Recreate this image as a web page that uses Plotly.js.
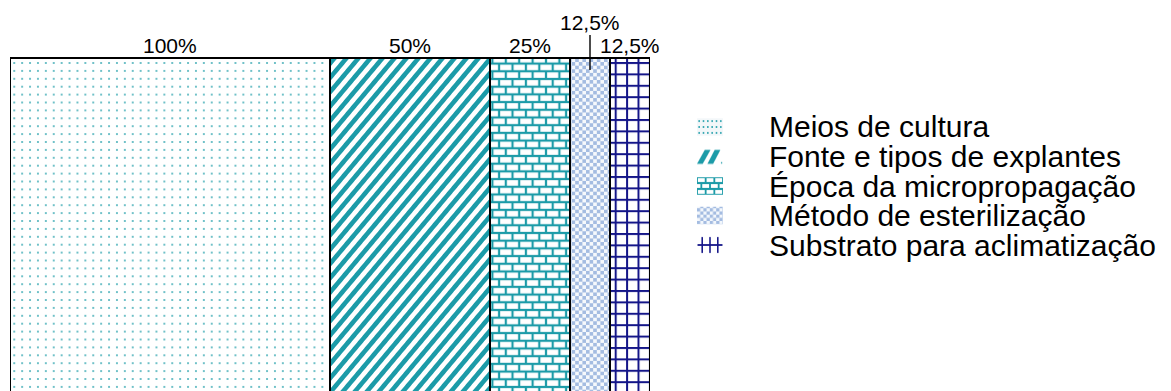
<!DOCTYPE html>
<html>
<head>
<meta charset="utf-8">
<script src="https://cdn.plot.ly/plotly-3.0.1.min.js"></script>
<style>
  html, body { margin: 0; padding: 0; background: #fff; }
  #chart { width: 1171px; height: 391px; }
</style>
</head>
<body>
<div id="chart"></div>
<svg id="fills" width="0" height="0" style="position:absolute;left:0;top:0"><defs></defs></svg>
<script>
// Factors studied and the share of works covering each one
const categories = [
  'Meios de cultura',
  'Fonte e tipos de explantes',
  'Época da micropropagação',
  'Método de esterilização',
  'Substrato para aclimatização'
];
const shares = [100, 50, 25, 12.5, 12.5];
const shareLabels = shares.map(v => String(v).replace('.', ',') + '%');

// ---- page geometry (pixels) ----
const W = 1171, H = 391;
const px = v => v / W;
const py = v => 1 - v / H;
const FONT = '"Liberation Sans", Arial, Helvetica, sans-serif';

const TEAL = '#1c9ba8';
const TEAL_DOT = '#24a0ac';
const NAVY = '#141588';
const CHECK = '#a4bce1';

// Bars are laid side by side: each one as wide as its share
const total = shares.reduce((a, b) => a + b, 0);
const lefts = shares.map((v, i) => shares.slice(0, i).reduce((a, b) => a + b, 0));
const centers = shares.map((v, i) => lefts[i] + v / 2);

const plotLeftPx = 10, plotRightPx = 650;
const yRange = [0.05, 1.05];
const barTopPx = 58;
const plotH = (H - barTopPx) / ((1 - yRange[0]) / (yRange[1] - yRange[0]));
const plotTopPx = H - plotH;
const yTop = plotH / H;

// key rows on the right
const rowTop = 127, rowStep = 29.5;
const rowCenter = i => rowTop + i * rowStep;
const keyTopPx = rowCenter(0) - rowStep / 2;
const keyBotPx = rowCenter(categories.length - 1) + rowStep / 2;

const mainTrace = {
  type: 'bar',
  x: centers,
  y: shares.map(() => 1),
  width: shares,
  xaxis: 'x', yaxis: 'y',
  hoverinfo: 'skip',
  marker: { color: '#fff', line: { color: '#000', width: 2 } }
};

const keyTrace = {
  type: 'bar',
  orientation: 'h',
  x: categories.map(() => 1),
  y: categories.map((c, i) => i),
  width: 0.6,
  xaxis: 'x2', yaxis: 'y2',
  hoverinfo: 'skip',
  marker: { color: '#fff', line: { width: 0 } }
};

const RAISED = 3;
const labelFont = { family: FONT, size: 21, color: '#000' };
const annotations = shares.map((v, i) => {
  if (i === RAISED) {
    return {
      x: centers[i], xref: 'x', y: py(70), yref: 'paper',
      text: shareLabels[i], showarrow: true, arrowhead: 0,
      arrowwidth: 1.4, arrowcolor: '#000', standoff: 0, startstandoff: 0,
      ax: 0, ay: 23 - 70, borderpad: 0, font: labelFont
    };
  }
  return {
    x: centers[i], xref: 'x', y: py(45.5), yref: 'paper',
    text: shareLabels[i], showarrow: false,
    xanchor: 'center', yanchor: 'middle', font: labelFont
  };
});
categories.forEach((c, i) => annotations.push({
  x: px(767), xref: 'paper', y: py(rowCenter(i)), yref: 'paper',
  text: c, showarrow: false, xanchor: 'left', yanchor: 'middle',
  font: { family: FONT, size: 30, color: '#000' }
}));

const layout = {
  width: W, height: H,
  margin: { l: 0, r: 0, t: 0, b: 0, pad: 0 },
  paper_bgcolor: '#fff',
  plot_bgcolor: 'rgba(0,0,0,0)',
  showlegend: false,
  font: { family: FONT, color: '#000' },
  xaxis: { domain: [px(plotLeftPx), px(plotRightPx)], range: [0, total], visible: false, fixedrange: true },
  yaxis: { domain: [0, yTop], range: yRange, visible: false, fixedrange: true },
  xaxis2: { domain: [px(697), px(723)], range: [0, 1], visible: false, anchor: 'y2', fixedrange: true },
  yaxis2: { domain: [py(keyBotPx), py(keyTopPx)], range: [categories.length - 0.5, -0.5],
            visible: false, anchor: 'x2', fixedrange: true },
  annotations: annotations
};

// ---- hatch fills ----
const NS = 'http://www.w3.org/2000/svg';
const defs = document.querySelector('#fills defs');
function add(parent, tag, attrs) {
  const e = document.createElementNS(NS, tag);
  for (const k in attrs) e.setAttribute(k, attrs[k]);
  parent.appendChild(e);
  return e;
}
function userPattern(id, w, h, extra) {
  return add(defs, 'pattern', Object.assign({ id, patternUnits: 'userSpaceOnUse', width: w, height: h }, extra || {}));
}
function boxPattern(id) {
  return add(defs, 'pattern', { id, patternUnits: 'objectBoundingBox',
    patternContentUnits: 'objectBoundingBox', x: 0, y: 0, width: 1, height: 1 });
}

// dotted
(function () {
  const s = 7.9;
  const gy = ((63 - plotTopPx) % s) - s / 2;
  const p = userPattern('fill-dots', s, s, { x: 0.3, y: gy });
  add(p, 'rect', { x: 0, y: 0, width: s, height: s, fill: '#fff' });
  add(p, 'rect', { x: s / 2 - 0.8, y: s / 2 - 0.8, width: 1.6, height: 1.6, fill: TEAL_DOT });
})();

// diagonal stripes
(function () {
  const period = 9.2, band = 4.6;
  const p = userPattern('fill-stripe', period, 20, { patternTransform: 'rotate(40)' });
  add(p, 'rect', { x: 0, y: 0, width: period, height: 20, fill: '#fff' });
  add(p, 'rect', { x: 0, y: 0, width: band, height: 20, fill: TEAL });
})();

// brick wall
(function () {
  const w = 13.4, h = 15.4, m = 2.2;
  const p = userPattern('fill-brick', w, h);
  add(p, 'rect', { x: 0, y: 0, width: w, height: h, fill: TEAL });
  [[m / 2, m / 2], [w / 2 + m / 2, h / 2 + m / 2], [-w / 2 + m / 2, h / 2 + m / 2]].forEach(([x, y]) =>
    add(p, 'rect', { x, y, width: w - m, height: h / 2 - m, fill: '#fff' }));
})();

// checkerboard
function checker(id, c, light) {
  const p = userPattern(id, 2 * c, 2 * c);
  add(p, 'rect', { x: 0, y: 0, width: 2 * c, height: 2 * c, fill: light });
  add(p, 'rect', { x: 0, y: 0, width: c, height: c, fill: CHECK });
  add(p, 'rect', { x: c, y: c, width: c, height: c, fill: CHECK });
}
checker('fill-check', 3.6, '#f6f9fc');
checker('icon-check', 3.2, '#f3f7fc');

// square grid
(function () {
  const s = 11.4, lw = 2;
  const gx = ((610 - plotLeftPx) % s) + s / 2 - lw / 2;
  const gy = ((63 - plotTopPx) % s) - lw / 2;
  const p = userPattern('fill-grid', s, s, { x: gx, y: gy });
  add(p, 'rect', { x: 0, y: 0, width: s, height: s, fill: '#fff' });
  add(p, 'rect', { x: 0, y: 0, width: lw, height: s, fill: NAVY });
  add(p, 'rect', { x: 0, y: 0, width: s, height: lw, fill: NAVY });
})();

// key swatches
(function () {
  const p = boxPattern('icon-dots');
  add(p, 'rect', { x: 0, y: 0, width: 1, height: 1, fill: '#f3f7f9' });
  for (let r = 0; r < 3; r++) for (let c = 0; c < 6; c++)
    add(p, 'rect', { x: (c + 0.5) / 6 - 0.03, y: (r + 0.5) / 3 - 0.05, width: 0.06, height: 0.1, fill: TEAL_DOT });
})();
(function () {
  const p = boxPattern('icon-slash');
  add(p, 'polygon', { points: '0.0,0.92 0.22,0.92 0.52,0.12 0.30,0.12', fill: TEAL });
  add(p, 'polygon', { points: '0.40,0.92 0.62,0.92 0.90,0.12 0.68,0.12', fill: TEAL });
  add(p, 'rect', { x: 0.92, y: 0.82, width: 0.05, height: 0.08, fill: TEAL });
})();
(function () {
  const p = boxPattern('icon-brick');
  add(p, 'rect', { x: 0, y: 0, width: 1, height: 1, fill: TEAL });
  const mx = 0.07, my = 0.12, ch = 1 / 3, bw = 1 / 3;
  for (let k = 0; k < 3; k++) {
    const offs = k % 2 === 0 ? [0, bw, 2 * bw] : [-bw / 2, bw / 2, 1.5 * bw, 2.5 * bw];
    offs.forEach(o => add(p, 'rect', { x: o + mx / 2, y: k * ch + my / 2, width: bw - mx, height: ch - my, fill: '#fff' }));
  }
})();
(function () {
  const p = boxPattern('icon-grid');
  add(p, 'rect', { x: 0.02, y: 0.45, width: 0.96, height: 0.1, fill: NAVY });
  [0.2, 0.5, 0.8].forEach(x => add(p, 'rect', { x: x - 0.03, y: 0.05, width: 0.06, height: 0.9, fill: NAVY }));
})();

const gd = document.getElementById('chart');
Plotly.newPlot(gd, [mainTrace, keyTrace], layout, { staticPlot: true, displayModeBar: false }).then(() => {
  const bars = gd.querySelectorAll('.subplot.xy .barlayer .point path');
  ['fill-dots', 'fill-stripe', 'fill-brick', 'fill-check', 'fill-grid'].forEach((id, i) => {
    if (bars[i]) bars[i].style.fill = 'url(#' + id + ')';
  });
  const keys = gd.querySelectorAll('.subplot.x2y2 .barlayer .point path');
  ['icon-dots', 'icon-slash', 'icon-brick', 'icon-check', 'icon-grid'].forEach((id, i) => {
    if (keys[i]) keys[i].style.fill = 'url(#' + id + ')';
  });
});
</script>
</body>
</html>
